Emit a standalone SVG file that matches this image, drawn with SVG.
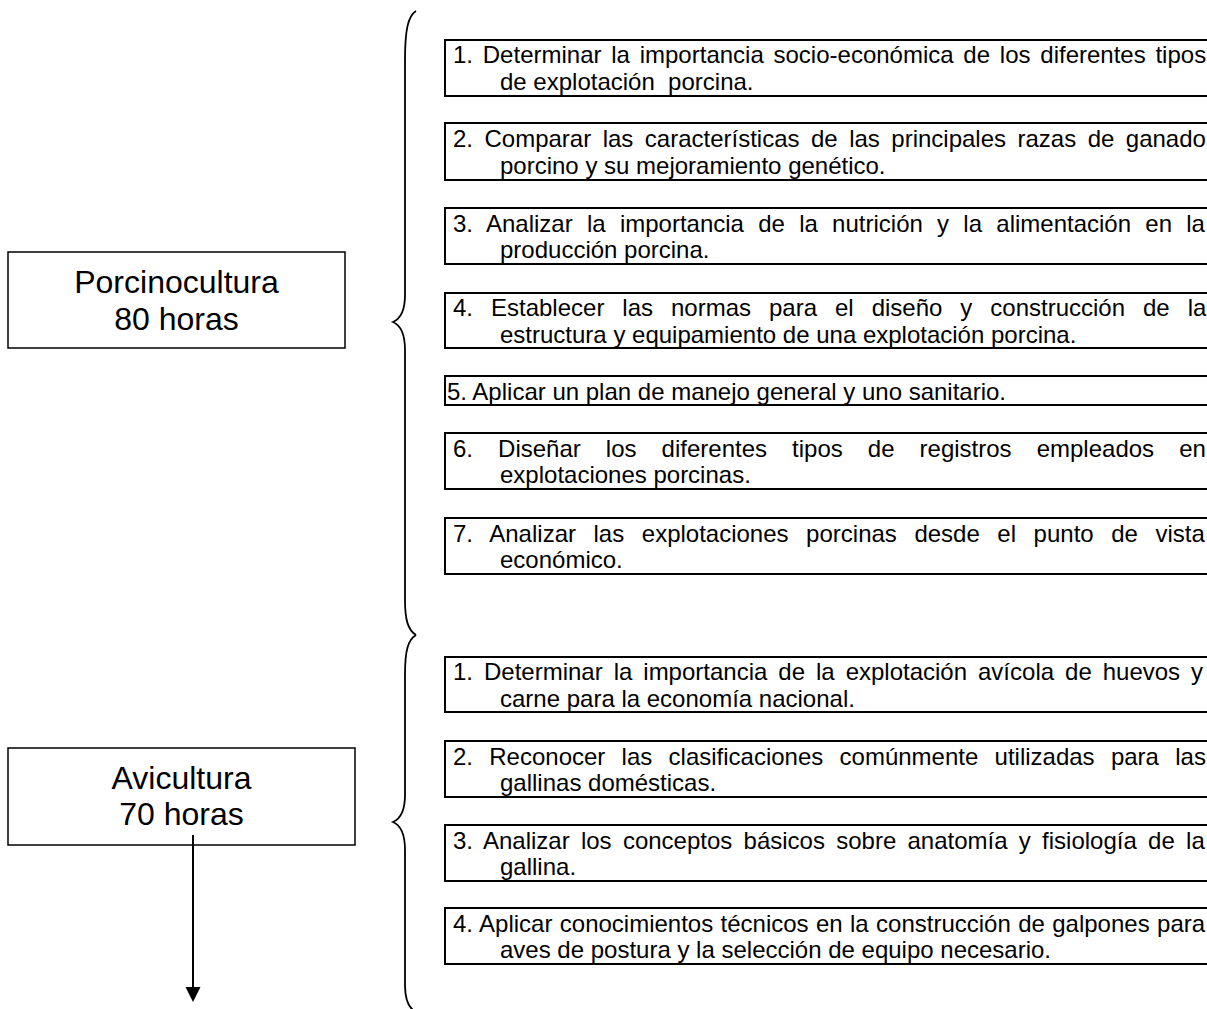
<svg xmlns="http://www.w3.org/2000/svg" width="1207" height="1009" viewBox="0 0 1207 1009">
<style>
.bg{fill:#fff}
.item{fill:#fff;stroke:#000;stroke-width:2}
.title{fill:#fff;stroke:#000;stroke-width:1.5}
.t{font-family:"Liberation Sans",Arial,sans-serif;font-size:24px;fill:#000}
.h{font-family:"Liberation Sans",Arial,sans-serif;font-size:32px;fill:#000;text-anchor:middle}
.brace{fill:none;stroke:#000;stroke-width:1.8}
.arrow{stroke:#000;stroke-width:2}
</style>
<defs>
<marker id="ah" markerWidth="16" markerHeight="16" refX="0" refY="7.5" orient="auto" markerUnits="userSpaceOnUse">
<path d="M0,0 L15,7.5 L0,15 Z" fill="#000"/>
</marker>
</defs>
<rect class="bg" x="0" y="0" width="1207" height="1009"/>

<g id="porcinocultura">
<rect class="title" x="8" y="252" width="337" height="96"/>
<text class="h" x="176.5" y="293">Porcinocultura</text>
<text class="h" x="176.5" y="330">80 horas</text>
</g>

<g id="avicultura">
<rect class="title" x="8" y="748" width="347" height="97"/>
<text class="h" x="181.5" y="789">Avicultura</text>
<text class="h" x="181.5" y="825">70 horas</text>
</g>

<g id="p1">
<rect class="item" x="445" y="40" width="780" height="56"/>
<text class="t" x="453" y="63" word-spacing="3.1">1. Determinar la importancia socio-económica de los diferentes tipos</text>
<text class="t" x="500" y="90" xml:space="preserve" style="white-space:pre">de explotación  porcina.</text>
</g>
<g id="p2">
<rect class="item" x="445" y="123" width="780" height="57"/>
<text class="t" x="453" y="146.5" word-spacing="4.8">2. Comparar las características de las principales razas de ganado</text>
<text class="t" x="500" y="173.5">porcino y su mejoramiento genético.</text>
</g>
<g id="p3">
<rect class="item" x="445" y="208" width="780" height="56"/>
<text class="t" x="453" y="231.5" word-spacing="7.6">3. Analizar la importancia de la nutrición y la alimentación en la</text>
<text class="t" x="500" y="258">producción porcina.</text>
</g>
<g id="p4">
<rect class="item" x="445" y="293" width="780" height="55"/>
<text class="t" x="453" y="316" word-spacing="11.3">4. Establecer las normas para el diseño y construcción de la</text>
<text class="t" x="500" y="342.5">estructura y equipamiento de una explotación porcina.</text>
</g>
<g id="p5">
<rect class="item" x="445" y="376" width="780" height="29"/>
<text class="t" x="447" y="399.5">5. Aplicar un plan de manejo general y uno sanitario.</text>
</g>
<g id="p6">
<rect class="item" x="445" y="433" width="780" height="56"/>
<text class="t" x="453" y="456.5" word-spacing="18.4">6. Diseñar los diferentes tipos de registros empleados en</text>
<text class="t" x="500" y="483">explotaciones porcinas.</text>
</g>
<g id="p7">
<rect class="item" x="445" y="518" width="780" height="56"/>
<text class="t" x="453" y="541.5" word-spacing="10.9">7. Analizar las explotaciones porcinas desde el punto de vista</text>
<text class="t" x="500" y="568">económico.</text>
</g>

<g id="a1">
<rect class="item" x="445" y="657" width="780" height="55"/>
<text class="t" x="453" y="680" word-spacing="4.3">1. Determinar la importancia de la explotación avícola de huevos y</text>
<text class="t" x="500" y="706.5">carne para la economía nacional.</text>
</g>
<g id="a2">
<rect class="item" x="445" y="741" width="780" height="56"/>
<text class="t" x="453" y="764.5" word-spacing="9.6">2. Reconocer las clasificaciones comúnmente utilizadas para las</text>
<text class="t" x="500" y="791">gallinas domésticas.</text>
</g>
<g id="a3">
<rect class="item" x="445" y="825" width="780" height="56"/>
<text class="t" x="453" y="848.5" word-spacing="4.6">3. Analizar los conceptos básicos sobre anatomía y fisiología de la</text>
<text class="t" x="500" y="875">gallina.</text>
</g>
<g id="a4">
<rect class="item" x="445" y="908" width="780" height="56"/>
<text class="t" x="453" y="931.5" word-spacing="0.7">4. Aplicar conocimientos técnicos en la construcción de galpones para</text>
<text class="t" x="500" y="958">aves de postura y la selección de equipo necesario.</text>
</g>

<g id="connectors">
<path class="brace" d="M416,11 C408,16 405,30 405,60 L405,295 C405,312 400,319 393,322 C400,325 405,332 405,350 L405,600 C405,620 408,630 416,635"/>
<path class="brace" d="M416,635 C408,640 405,650 405,675 L405,795 C405,812 400,819 393,822 C400,825 405,832 405,850 L405,985 C405,1000 408,1006 413,1010"/>
<line class="arrow" x1="193" y1="835" x2="193" y2="987" marker-end="url(#ah)"/>
</g>
</svg>
